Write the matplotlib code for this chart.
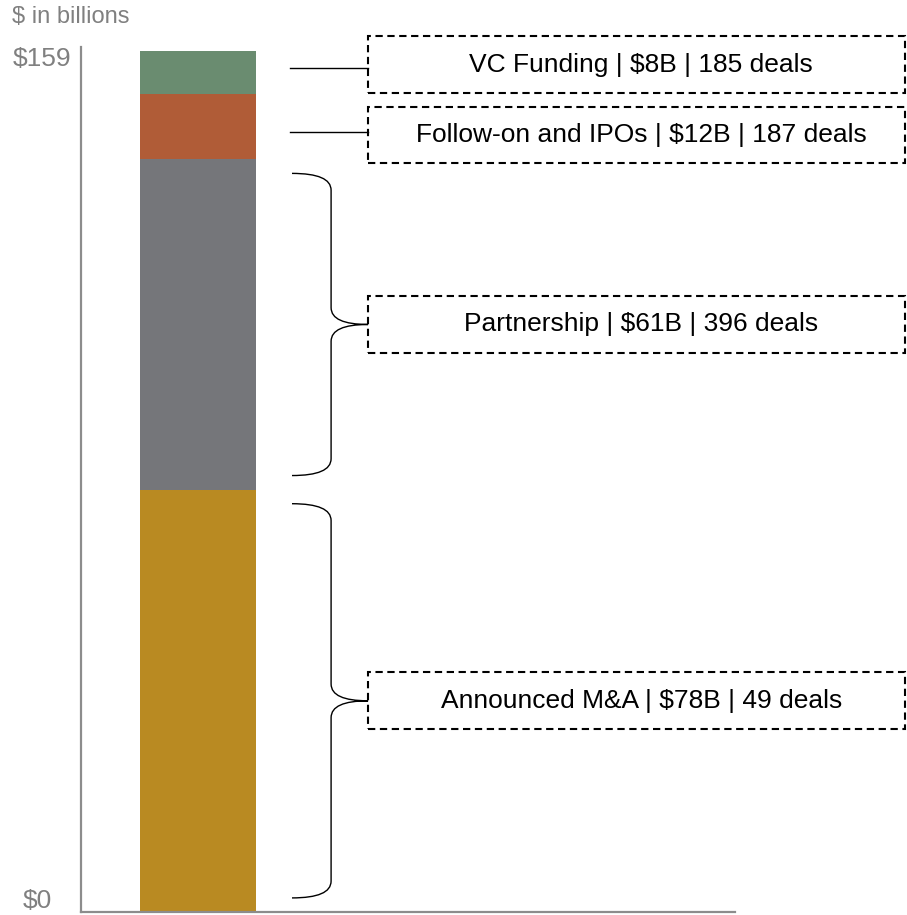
import matplotlib.pyplot as plt
import matplotlib.transforms as mtransforms
from matplotlib.patches import Rectangle, PathPatch
from matplotlib.path import Path

plt.rcParams['font.family'] = ['Liberation Sans', 'DejaVu Sans']

# data, bottom to top of the stack
segments = ['Announced M&A', 'Partnership', 'Follow-on and IPOs', 'VC Funding']
values = [78, 61, 12, 8]
deals = [49, 396, 187, 185]
total = 159
colors = ['#b98a22', '#75767a', '#b05c37', '#6a8c70']

W, H = 907, 915
fig = plt.figure(figsize=(W / 100, H / 100), dpi=100)
ax = fig.add_axes([81 / W, 3 / H, (735 - 81) / W, (912 - 47) / H])

bottom = 0
mids = []
for v, c in zip(values, colors):
    ax.bar(0, v, width=1, bottom=bottom, color=c, edgecolor='none')
    mids.append(bottom + v / 2)
    bottom += v

ax.set_xlim(-1.009, 4.629)
ax.set_ylim(0, 159.74)
for s in ['top', 'right']:
    ax.spines[s].set_visible(False)
for s in ['left', 'bottom']:
    ax.spines[s].set_color('#8c8c8c')
    ax.spines[s].set_linewidth(1.6)
ax.set_xticks([])
ax.set_yticks([])

# annotation geometry (data units)
box_l, box_r = 1.466, 6.095
box_h = 10.5
tip_x, spine_x = 0.81, 1.147
curl = 3.1
inset = 2.6
nudge = [0, 0, -1.5, 1.5]


def brace(y0, y1):
    ym = (y0 + y1) / 2
    verts = [(tip_x, y1), (spine_x, y1), (spine_x, y1 - curl),
             (spine_x, ym + curl), (spine_x, ym), (box_l, ym),
             (spine_x, ym), (spine_x, ym - curl),
             (spine_x, y0 + curl), (spine_x, y0), (tip_x, y0)]
    codes = [Path.MOVETO, Path.CURVE3, Path.CURVE3,
             Path.LINETO, Path.CURVE3, Path.CURVE3,
             Path.CURVE3, Path.CURVE3,
             Path.LINETO, Path.CURVE3, Path.CURVE3]
    return PathPatch(Path(verts, codes), fill=False, lw=1.0, color='black', clip_on=False)


bottom = 0
for i, (name, v, d) in enumerate(zip(segments, values, deals)):
    yc = mids[i] + nudge[i]
    if v > 20:
        ax.add_patch(brace(bottom + inset, bottom + v - inset))
    else:
        yl = mids[i] + 0.6 * nudge[i]
        ax.plot([0.793, box_l], [yl, yl], color='black', lw=1, clip_on=False)
    ax.add_patch(Rectangle((box_l, yc - box_h / 2), box_r - box_l, box_h, fill=False,
                           ec='black', lw=1.5, ls=(0, (3.5, 2.2)), clip_on=False))
    ax.text((box_l + box_r) / 2 + 0.04, yc, f'{name} | ${v}B | {d} deals',
            ha='center', va='center', fontsize=19, color='black')
    bottom += v

trans = ax.get_yaxis_transform()
ax.text(-0.104, total, f'${total}', ha='left', va='center', fontsize=19, color='#808080',
        transform=mtransforms.offset_copy(trans, fig=fig, y=-8, units='dots'), clip_on=False)
ax.text(-0.089, 0, '$0', ha='left', va='center', fontsize=19, color='#808080',
        transform=mtransforms.offset_copy(trans, fig=fig, y=11, units='dots'), clip_on=False)
fig.text(12 / W, 1 - 17 / H, '$ in billions', ha='left', va='center', fontsize=17, color='#808080')

fig.savefig('out.png', dpi=100)
